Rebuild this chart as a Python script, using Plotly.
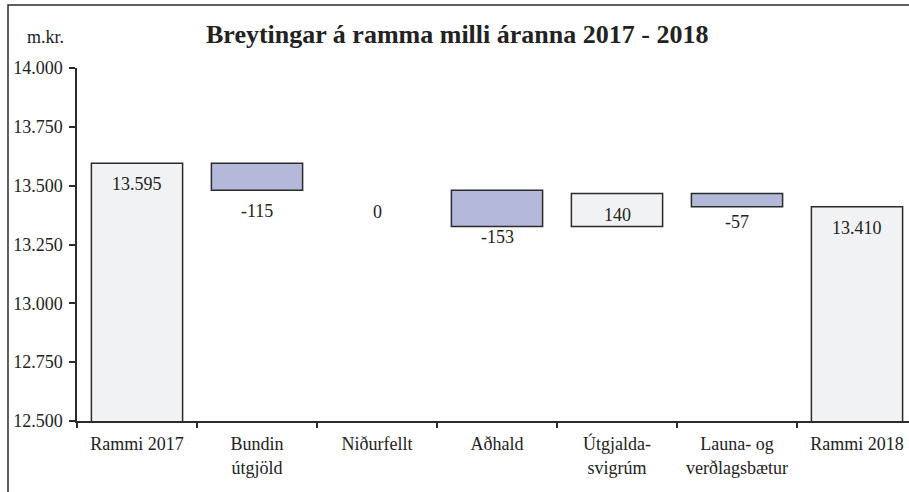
import plotly.graph_objects as go

categories = ["Rammi 2017", "Bundin<br>útgjöld", "Niðurfellt", "Aðhald",
              "Útgjalda-<br>svigrúm", "Launa- og<br>verðlagsbætur", "Rammi 2018"]
changes = [13595, -115, 0, -153, 140, -57, None]  # first is start total, last is end total
label_text = ["13.595", "-115", "0", "-153", "140", "-57", "13.410"]
y_tick_vals = [12500, 12750, 13000, 13250, 13500, 13750, 14000]
y_tick_text = ["12.500", "12.750", "13.000", "13.250", "13.500", "13.750", "14.000"]

GRAY = "#f1f2f4"
BLUE = "#b4b9da"
EDGE = "#2b2b2b"
FONT = "Liberation Serif"
TXT = "#222"

# compute floating bars
bases, heights, colors, lw = [], [], [], []
running = 0
for i, c in enumerate(changes):
    if i == 0:
        running = c
        bases.append(0); heights.append(c); colors.append(GRAY); lw.append(1.5)
    elif c is None:
        bases.append(0); heights.append(running); colors.append(GRAY); lw.append(1.5)
    else:
        new = running + c
        lo, hi = min(running, new), max(running, new)
        bases.append(lo); heights.append(hi - lo)
        colors.append(BLUE if c < 0 else GRAY)
        lw.append(0 if c == 0 else 1.5)
        running = new

fig = go.Figure(go.Bar(
    x=categories, y=heights, base=bases, width=0.76,
    marker=dict(color=colors, line=dict(color=EDGE, width=lw)),
    hoverinfo="skip",
))

# label anchors: (edge value, pixel shift)
annots = []
shifts = [-21, -21, -22, -11, -22, -15, -21]
for i, cat in enumerate(categories):
    top = bases[i] + heights[i]
    bot = bases[i]
    anchor = top if i in (0, 4, 6) else bot
    annots.append(dict(x=cat, y=anchor, xref="x", yref="y", text=label_text[i],
                       showarrow=False, yanchor="middle", yshift=shifts[i],
                       font=dict(family=FONT, size=18, color=TXT)))

annots.append(dict(x=0.457, y=1.0935, xref="paper", yref="paper",
                   text="<b>Breytingar á ramma milli áranna 2017 - 2018</b>",
                   showarrow=False, xanchor="center", yanchor="middle",
                   font=dict(family=FONT, size=26, color=TXT)))
annots.append(dict(x=-0.0375, y=1.087, xref="paper", yref="paper", text="m.kr.",
                   showarrow=False, xanchor="center", yanchor="middle",
                   font=dict(family=FONT, size=18, color=TXT)))

fig.update_layout(
    width=909, height=492,
    margin=dict(l=77, r=0, t=68, b=71),
    paper_bgcolor="white", plot_bgcolor="white",
    showlegend=False,
    annotations=annots,
    font=dict(family=FONT, size=18, color=TXT),
    shapes=[dict(type="rect", xref="paper", yref="paper",
                 x0=(8 - 77) / 832, x1=1.1, y0=-0.5, y1=1 + (68 - 5) / 353,
                 line=dict(color=EDGE, width=1.5), fillcolor="rgba(0,0,0,0)", layer="below")],
    xaxis=dict(range=[-0.5, 6.5 - 8 / 120], showgrid=False, showline=True, linecolor=EDGE,
               linewidth=1.5, ticks="outside", tickson="boundaries", ticklen=5,
               tickcolor=EDGE, tickwidth=1.5, tickfont=dict(family=FONT, size=18, color=TXT),
               ticklabelstandoff=6, fixedrange=True),
    yaxis=dict(range=[12500, 14000], showgrid=False, showline=True, linecolor=EDGE,
               linewidth=1.5, ticks="outside", ticklen=6, tickcolor=EDGE, tickwidth=1.5,
               tickvals=y_tick_vals, ticktext=y_tick_text, zeroline=False,
               tickfont=dict(family=FONT, size=18, color=TXT), ticklabelstandoff=3,
               fixedrange=True),
)

fig.write_html("out.html", config={"displayModeBar": False},
               post_script="document.body.style.margin='0';document.body.style.overflow='hidden';")
